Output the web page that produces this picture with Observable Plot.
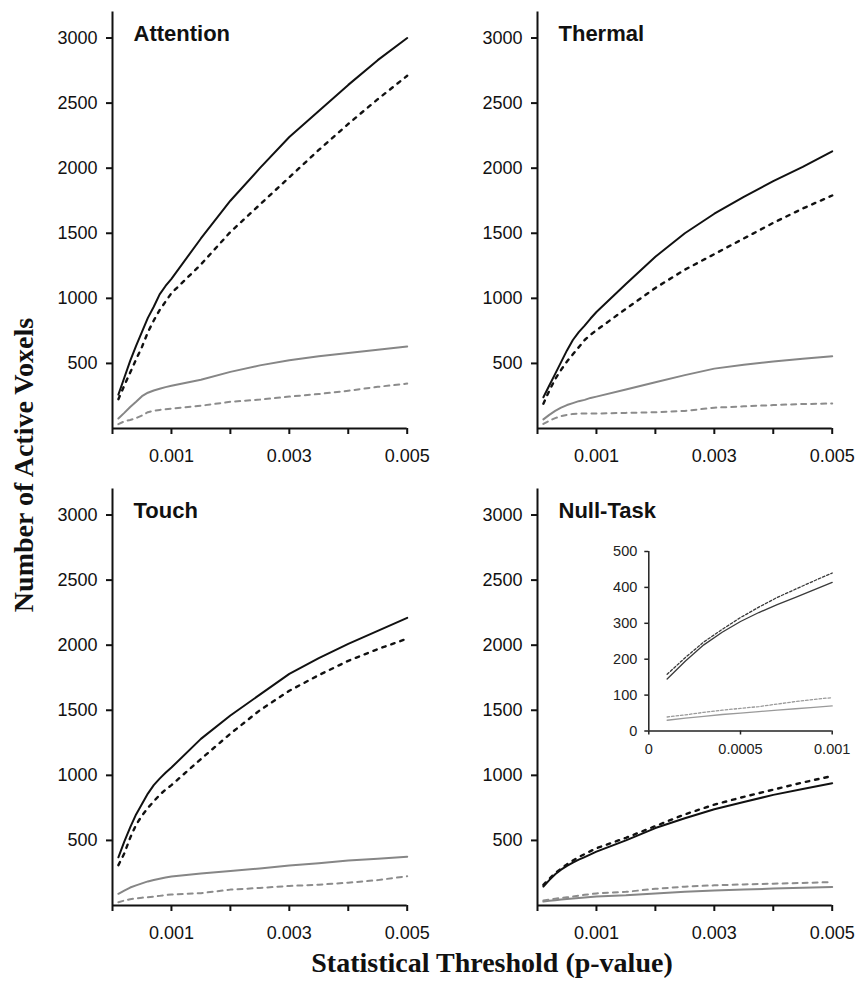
<!DOCTYPE html>
<html>
<head>
<meta charset="utf-8">
<script src="https://cdn.jsdelivr.net/npm/d3@7"></script>
<script src="https://cdn.jsdelivr.net/npm/@observablehq/plot@0.6"></script>
<style>
  html, body { margin: 0; padding: 0; background: #fff; }
  #chart { position: relative; width: 856px; height: 986px; overflow: hidden; }
  #chart > svg { position: absolute; }
</style>
</head>
<body>
<div id="chart"></div>
<script>
// ---- data ----
const pValues = [0.0001,0.0002,0.0003,0.0004,0.0005,0.0006,0.0007,0.0008,0.0009,0.001,0.0015,0.002,0.0025,0.003,0.0035,0.004,0.0045,0.005];

const panelNames = ["Attention", "Thermal", "Touch", "Null-Task"];

const attentionBlackSolid  = [260,390,520,635,742,850,935,1030,1095,1150,1460,1750,2000,2240,2440,2640,2830,3000];
const attentionBlackDashed = [225,330,430,530,627,740,830,910,975,1040,1260,1510,1720,1930,2140,2340,2530,2710];
const attentionGraySolid   = [77,120,165,205,248,275,292,305,318,328,375,435,485,525,555,580,605,630];
const attentionGrayDashed  = [33,55,65,80,100,125,137,143,148,153,175,205,222,245,265,290,320,345];

const thermalBlackSolid  = [240,330,420,510,600,680,740,790,845,895,1110,1320,1500,1650,1780,1900,2010,2130];
const thermalBlackDashed = [190,290,380,450,515,570,625,680,720,755,920,1080,1220,1340,1460,1580,1690,1790];
const thermalGraySolid   = [70,105,135,160,180,195,210,220,235,245,300,355,410,460,490,515,535,555];
const thermalGrayDashed  = [35,60,80,95,105,112,115,115,115,115,120,125,135,160,170,180,188,192];

const touchBlackSolid  = [370,490,600,700,780,860,925,975,1020,1060,1280,1460,1620,1780,1900,2010,2110,2210];
const touchBlackDashed = [310,400,520,620,690,750,800,850,890,925,1125,1320,1500,1650,1770,1880,1970,2050];
const touchGraySolid   = [90,115,138,155,170,185,196,206,215,222,245,265,285,308,325,345,360,375];
const touchGrayDashed  = [25,38,48,55,60,64,68,74,80,85,95,122,135,150,160,175,195,225];

const nullBlackSolid  = [145,195,240,275,305,330,352,372,393,414,500,595,670,740,795,850,895,940];
const nullBlackDashed = [158,205,248,283,316,345,372,395,418,440,520,610,700,775,835,890,945,995];
const nullGraySolid   = [30,36,41,46,50,54,58,62,66,70,78,92,105,115,122,130,136,142];
const nullGrayDashed  = [39,45,52,58,63,68,75,82,88,93,105,128,145,155,162,168,173,180];

const yTicks = [500,1000,1500,2000,2500,3000];
const xTicks = [0,0.001,0.002,0.003,0.004,0.005];
const xTickLabels = ["","0.001","","0.003","","0.005"];

const insetYTicks = [0,100,200,300,400,500];
const insetXTicks = [0,0.0005,0.001];
const insetXTickLabels = ["0","0.0005","0.001"];

const yTitle = "Number of Active Voxels";
const xTitle = "Statistical Threshold (p-value)";

// ---- helpers ----
const toRows = (vals, maxP = Infinity) =>
  pValues.map((p, i) => ({p, v: vals[i]})).filter(d => d.p <= maxP + 1e-12);

const panels = [
  {name: panelNames[0], s: [attentionBlackSolid, attentionBlackDashed, attentionGraySolid, attentionGrayDashed], left: 0, top: 0},
  {name: panelNames[1], s: [thermalBlackSolid, thermalBlackDashed, thermalGraySolid, thermalGrayDashed], left: 424.7, top: 0},
  {name: panelNames[2], s: [touchBlackSolid, touchBlackDashed, touchGraySolid, touchGrayDashed], left: 0, top: 477},
  {name: panelNames[3], s: [nullBlackSolid, nullBlackDashed, nullGraySolid, nullGrayDashed], left: 424.7, top: 477}
];

const mainStyles = [
  {stroke: "#111", strokeWidth: 2},
  {stroke: "#111", strokeWidth: 2.4, strokeDasharray: "3.5,6"},
  {stroke: "#868686", strokeWidth: 2},
  {stroke: "#8c8c8c", strokeWidth: 2, strokeDasharray: "5,5"}
];

const chart = document.getElementById("chart");
const font = "'Liberation Sans', Arial, sans-serif";

for (const pn of panels) {
  const svg = Plot.plot({
    width: 428,
    height: 470,
    marginLeft: 112,
    marginRight: 21.3,
    marginTop: 11.5,
    marginBottom: 42,
    style: {background: "transparent", fontFamily: font, color: "#111", overflow: "visible"},
    x: {domain: [0, 0.005]},
    y: {domain: [0, 3200]},
    marks: [
      ...pn.s.map((vals, k) => Plot.line(toRows(vals), {x: "p", y: "v", ...mainStyles[k]})),
      Plot.ruleY([0], {strokeWidth: 2}),
      Plot.ruleX([0], {strokeWidth: 2}),
      Plot.axisY(yTicks, {label: null, tickSize: 6, tickPadding: 9, fontSize: 18, strokeWidth: 2,
        tickFormat: d => String(d)}),
      Plot.axisX(xTicks, {label: null, tickSize: 6, tickPadding: 14.5, fontSize: 18, strokeWidth: 2,
        tickFormat: d => xTickLabels[xTicks.indexOf(d)]}),
      Plot.text([pn.name], {frameAnchor: "top-left", dx: 21, dy: 13, lineAnchor: "top",
        textAnchor: "start", fontSize: 22, fontWeight: "bold"})
    ]
  });
  svg.style.left = pn.left + "px";
  svg.style.top = pn.top + "px";
  chart.appendChild(svg);
}

// ---- inset (Null-Task, p <= 0.001) ----
const insetStyles = [
  {stroke: "#3a3a3a", strokeWidth: 1.3},
  {stroke: "#3a3a3a", strokeWidth: 1.3, strokeDasharray: "2.5,2"},
  {stroke: "#9a9a9a", strokeWidth: 1.3},
  {stroke: "#9a9a9a", strokeWidth: 1.3, strokeDasharray: "2.5,2"}
];
const insetSeries = [nullBlackSolid, nullBlackDashed, nullGraySolid, nullGrayDashed];
const inset = Plot.plot({
  width: 250,
  height: 240,
  marginLeft: 48.3,
  marginRight: 18.3,
  marginTop: 21,
  marginBottom: 39.5,
  style: {background: "transparent", fontFamily: font, color: "#222", overflow: "visible"},
  x: {domain: [0, 0.001]},
  y: {domain: [0, 500]},
  marks: [
    ...insetSeries.map((vals, k) => Plot.line(toRows(vals, 0.001), {x: "p", y: "v", ...insetStyles[k]})),
    Plot.ruleY([0], {strokeWidth: 1.5}),
    Plot.ruleX([0], {strokeWidth: 1.5}),
    Plot.axisY(insetYTicks, {label: null, tickSize: 4, tickPadding: 7.5, fontSize: 14.5, strokeWidth: 1.5,
      tickFormat: d => String(d)}),
    Plot.axisX(insetXTicks, {label: null, tickSize: 4, tickPadding: 8.5, fontSize: 14.5, strokeWidth: 1.5,
      tickFormat: d => insetXTickLabels[insetXTicks.indexOf(d)]})
  ]
});
inset.style.left = "600px";
inset.style.top = "530px";
chart.appendChild(inset);

// ---- shared axis titles ----
const ns = "http://www.w3.org/2000/svg";
const titles = document.createElementNS(ns, "svg");
titles.setAttribute("width", 856);
titles.setAttribute("height", 986);
titles.style.left = "0px";
titles.style.top = "0px";
titles.style.pointerEvents = "none";
const mk = (txt, attrs) => {
  const t = document.createElementNS(ns, "text");
  for (const [k, v] of Object.entries(attrs)) t.setAttribute(k, v);
  t.textContent = txt;
  titles.appendChild(t);
};
const titleFont = {"font-family": "'Liberation Serif', 'Times New Roman', serif", "font-size": 28, "font-weight": "bold", "fill": "#111", "text-anchor": "middle"};
mk(yTitle, {...titleFont, transform: "translate(33,465) rotate(-90)"});
mk(xTitle, {...titleFont, x: 492, y: 972});
chart.appendChild(titles);
</script>
</body>
</html>
